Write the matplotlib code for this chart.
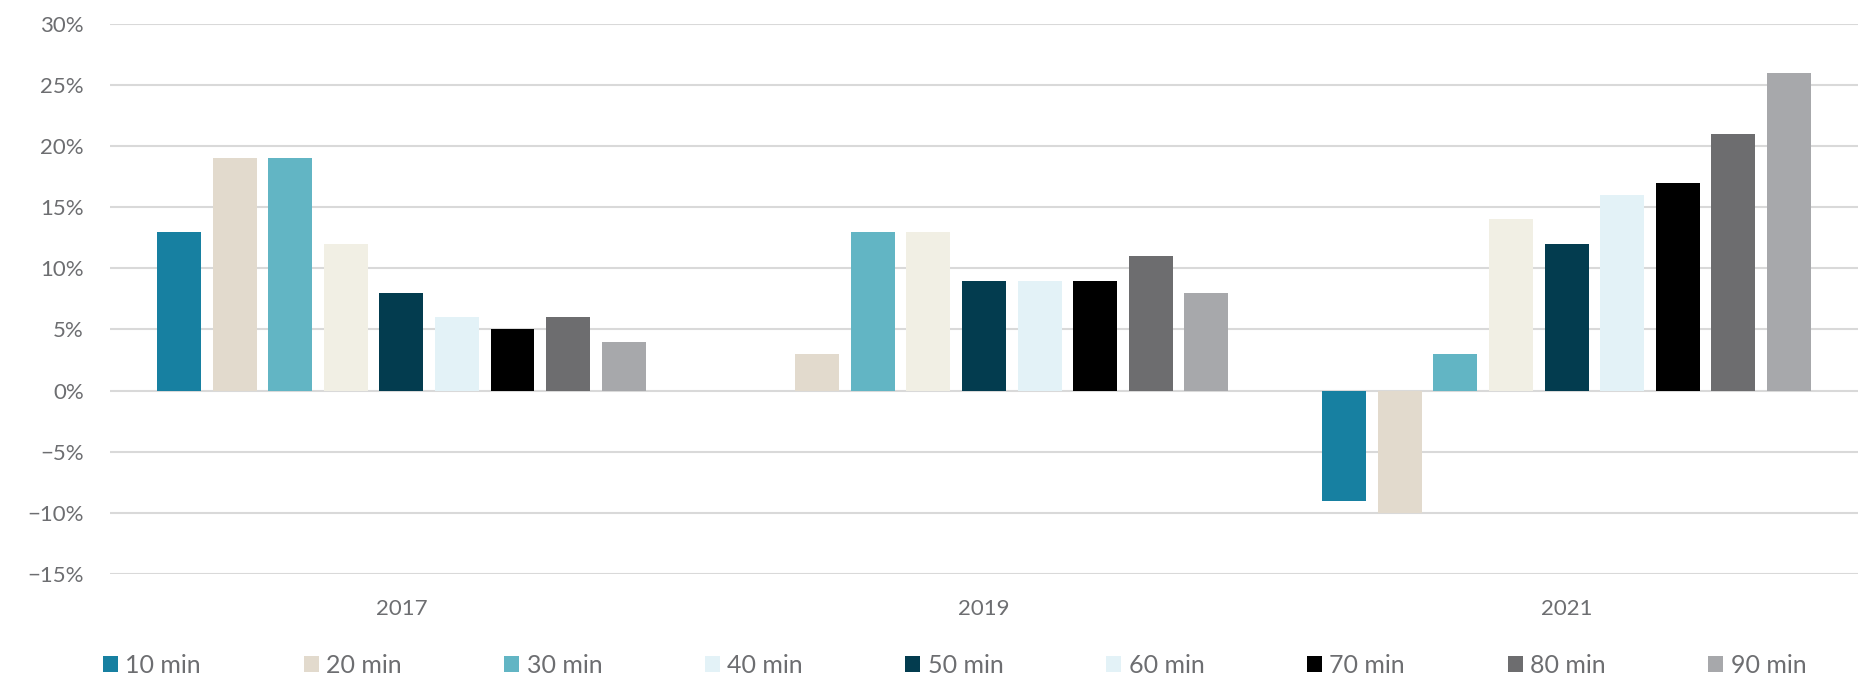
import numpy as np
import matplotlib
matplotlib.use("Agg")
from matplotlib import pyplot as plt
from matplotlib.patches import Patch

years = ['2017', '2019', '2021']
series = ['10 min', '20 min', '30 min', '40 min', '50 min', '60 min', '70 min', '80 min', '90 min']
values = [
    [13, 0, -9],
    [19, 3, -10],
    [19, 13, 3],
    [12, 13, 14],
    [8, 9, 12],
    [6, 9, 16],
    [5, 9, 17],
    [6, 11, 21],
    [4, 8, 26],
]
bar_colors = ['#1780a1', '#e2dacd', '#62b5c4', '#f1efe4', '#033c4f',
              '#e3f2f7', '#000000', '#6d6d6f', '#a7a8ab']
legend_colors = ['#1780a1', '#e2dacd', '#62b5c4', '#e3f2f7', '#033c4f',
                 '#e3f2f7', '#000000', '#6d6d6f', '#a7a8ab']

plt.rcParams['font.family'] = ['Lato', 'DejaVu Sans']
grey = '#6d6e71'

fig = plt.figure(figsize=(18.71, 6.8), dpi=100)
ax = fig.add_axes([0.0588, 0.156, 0.9342, 0.809])

x = np.arange(len(years))
pitch = 0.0954
width = 0.0755
for i, (name, vals) in enumerate(zip(series, values)):
    ax.bar(x + (i - 4) * pitch, vals, width=width, color=bar_colors[i], zorder=3)

ax.set_xlim(-0.5, 2.5)
ax.set_ylim(-15, 30)
ax.set_yticks(range(-15, 31, 5))
ax.set_yticklabels([f'{v}%'.replace('-', '\u2212') for v in range(-15, 31, 5)])
ax.set_xticks(x)
ax.set_xticklabels(years)
ax.yaxis.grid(True, color='#d9d9d9', linewidth=1.5, zorder=0)
ax.set_axisbelow(True)
for s in ax.spines.values():
    s.set_visible(False)
ax.tick_params(axis='y', length=0, pad=19, labelsize=16, labelcolor=grey)
ax.tick_params(axis='x', length=0, pad=18, labelsize=16, labelcolor=grey)

handles = [Patch(facecolor=c, label=s) for c, s in zip(legend_colors, series)]
fig.legend(handles=handles, ncol=9, loc='center left', bbox_to_anchor=(0.055, 0.021),
           frameon=False, fontsize=18, labelcolor=grey, handlelength=0.6, handleheight=0.6,
           handletextpad=0.3, columnspacing=4.1, borderpad=0, borderaxespad=0)

plt.savefig('out.png', dpi=100)
